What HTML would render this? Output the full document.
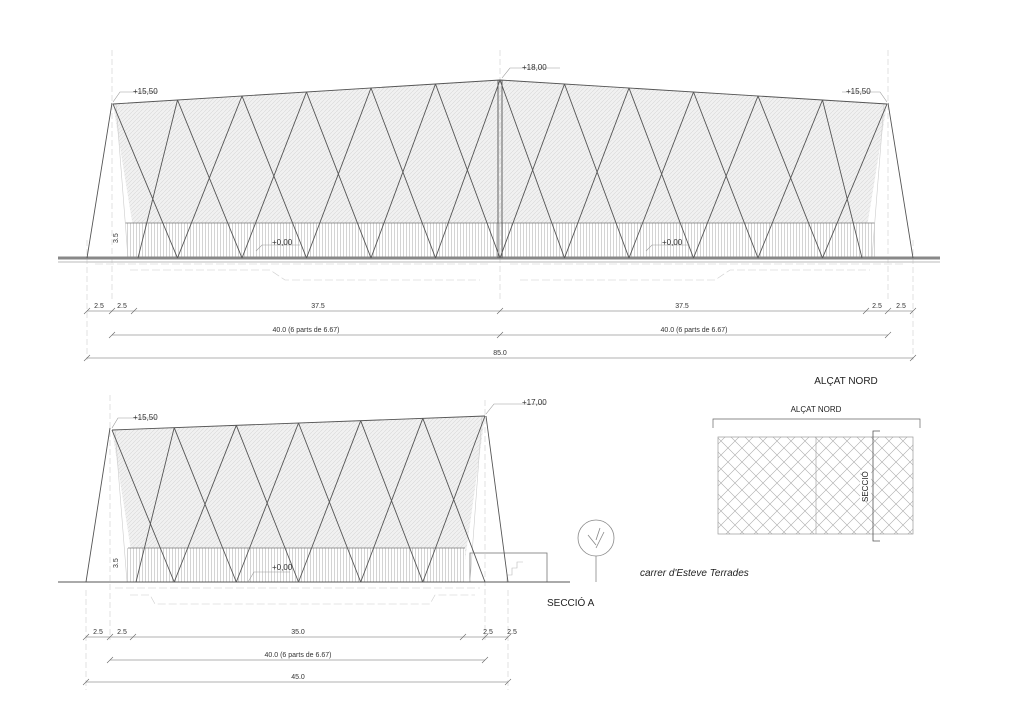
<!DOCTYPE html>
<html><head><meta charset="utf-8"><style>
html,body{margin:0;padding:0;background:#fff;}
svg{display:block;font-family:"Liberation Sans",sans-serif;}
</style></head><body>
<svg width="1024" height="724" viewBox="0 0 1024 724" xmlns="http://www.w3.org/2000/svg">
<defs>
<pattern id="h" width="4" height="4" patternUnits="userSpaceOnUse"><rect width="4" height="4" fill="#f1f1f1"/><path d="M0 4L4 0" stroke="#d8d8d8" stroke-width="0.6"/></pattern>
<pattern id="v" width="3" height="10" patternUnits="userSpaceOnUse"><rect width="3" height="10" fill="#fff"/><path d="M1.5 0V10" stroke="#b8b8b8" stroke-width="0.6"/></pattern>
<pattern id="d" width="14" height="14" patternUnits="userSpaceOnUse"><path d="M0 0L14 14M14 0L0 14" stroke="#aaa" stroke-width="0.6"/></pattern>
</defs>

<!-- TOP ELEVATION -->
<polygon points="113,104 500,80 887,104 862,258 138,258" fill="url(#h)"/>
<rect x="125" y="223" width="750" height="35" fill="url(#v)"/>
<path d="M125 223H875" stroke="#777" stroke-width="0.8"/>
<g stroke="#ccc" stroke-width="0.6" fill="none">
<path d="M112 50V300M500 50V300M888 50V300M87 240V360M913 240V360" stroke-dasharray="6 3"/>
<path d="M116 104L128 258M884 104L872 258"/>
<path d="M95 264H490M510 264H905M130 270H270L285 280H480M520 280H715L730 270H870" stroke-dasharray="8 3"/>
</g>
<path d="M58 258H940" stroke="#888" stroke-width="3"/>
<path d="M58 262H940" stroke="#bbb" stroke-width="1"/>
<g stroke="#555" stroke-width="0.9" fill="none">
<path d="M113 104L500 80L887 104"/>
<path d="M87 258L112 103M913 258L888 103"/>
<path d="M498 80V258M502 80V258"/>
<path d="M113 104L177.5 258M177.5 100L242 258M242 96L306.5 258M306.5 92L371 258M371 88L435.5 258M435.5 84L500 258M177.5 100L138 258M242 96L177.5 258M306.5 92L242 258M371 88L306.5 258M435.5 84L371 258M500 80L435.5 258"/>
<path d="M887 104L822.5 258M822.5 100L758 258M758 96L693.5 258M693.5 92L629 258M629 88L564.5 258M564.5 84L500 258M822.5 100L862 258M758 96L822.5 258M693.5 92L758 258M629 88L693.5 258M564.5 84L629 258M500 80L564.5 258"/>
</g>
<g stroke="#999" stroke-width="0.6" fill="none">
<path d="M113 102L120 92H158M502 78L510 68H560M887 102L880 92H842M256 251L262 245H300M646 251L652 245H690"/>
</g>
<g font-size="8" fill="#333">
<text x="133" y="94">+15,50</text>
<text x="522" y="70">+18,00</text>
<text x="846" y="94">+15,50</text>
<text x="272" y="245">+0,00</text>
<text x="662" y="245">+0,00</text>
<text transform="translate(118,243) rotate(-90)" font-size="7">3.5</text>
</g>
<!-- top dims -->
<g stroke="#666" stroke-width="0.6" fill="none">
<path d="M87 311H913M112 335H888M87 358H913"/>
<path d="M84 314L90 308M109 314L115 308M131 314L137 308M497 314L503 308M863 314L869 308M885 314L891 308M910 314L916 308M109 338L115 332M497 338L503 332M885 338L891 332M84 361L90 355M910 361L916 355"/>
</g>
<g font-size="7" fill="#333" text-anchor="middle">
<text x="99" y="308">2.5</text><text x="122" y="308">2.5</text><text x="318" y="308">37.5</text><text x="682" y="308">37.5</text><text x="877" y="308">2.5</text><text x="901" y="308">2.5</text>
<text x="306" y="332">40.0 (6 parts de 6.67)</text><text x="694" y="332">40.0 (6 parts de 6.67)</text>
<text x="500" y="355">85.0</text>
</g>
<text x="846" y="384" font-size="10" fill="#222" text-anchor="middle">ALÇAT NORD</text>

<!-- BOTTOM SECTION -->
<polygon points="112,430 485,416 462,582 136,582" fill="url(#h)"/>
<rect x="125" y="548" width="340" height="34" fill="url(#v)"/>
<path d="M128 548H465" stroke="#777" stroke-width="0.8"/>
<rect x="470" y="553" width="77" height="29" fill="#fff" stroke="#777" stroke-width="0.8"/>
<path d="M507 582V575H512V568H517V562H523" stroke="#bbb" stroke-width="0.6" fill="none"/>
<g stroke="#ccc" stroke-width="0.6" fill="none">
<path d="M110 395V640M485 400V640M86 590V690M508 590V690" stroke-dasharray="6 3"/>
<path d="M115 430L127 582M482 416L470 582"/>
<path d="M115 588H480M130 595H150L155 604H430L435 595H475" stroke-dasharray="8 3"/>
</g>
<path d="M58 582H570" stroke="#555" stroke-width="1"/>
<g stroke="#555" stroke-width="0.9" fill="none">
<path d="M112 430L485 416"/>
<path d="M86 582L110 428M508 582L486 416"/>
<path d="M112 430L174.2 582M174.2 427.7L236.3 582M236.3 425.3L298.5 582M298.5 423L360.7 582M360.7 420.7L422.8 582M422.8 418.3L485 582M174.2 427.7L136 582M236.3 425.3L174.2 582M298.5 423L236.3 582M360.7 420.7L298.5 582M422.8 418.3L360.7 582M485 416L422.8 582"/>
</g>
<g stroke="#888" stroke-width="0.8" fill="none">
<circle cx="596" cy="538" r="18"/>
<path d="M596 556V582M596 545L588 535M596 548L604 532M596 540L600 528"/>
</g>
<g stroke="#999" stroke-width="0.6" fill="none">
<path d="M112 428L118 418H156M486 414L494 404H545M248 582L254 572H290"/>
</g>
<g font-size="8" fill="#333">
<text x="133" y="420">+15,50</text>
<text x="522" y="405">+17,00</text>
<text x="272" y="570">+0,00</text>
<text transform="translate(118,568) rotate(-90)" font-size="7">3.5</text>
</g>
<text x="640" y="576" font-size="10" font-style="italic" fill="#222">carrer d'Esteve Terrades</text>
<text x="547" y="606" font-size="10" fill="#222">SECCIÓ A</text>
<g stroke="#666" stroke-width="0.6" fill="none">
<path d="M86 637H508M110 660H485M86 682H508"/>
<path d="M83 640L89 634M107 640L113 634M130 640L136 634M460 640L466 634M482 640L488 634M505 640L511 634M107 663L113 657M482 663L488 657M83 685L89 679M505 685L511 679"/>
</g>
<g font-size="7" fill="#333" text-anchor="middle">
<text x="98" y="634">2.5</text><text x="122" y="634">2.5</text><text x="298" y="634">35.0</text><text x="488" y="634">2.5</text><text x="512" y="634">2.5</text>
<text x="298" y="657">40.0 (6 parts de 6.67)</text>
<text x="298" y="679">45.0</text>
</g>

<!-- KEY PLAN -->
<text x="816" y="412" font-size="8" fill="#222" text-anchor="middle">ALÇAT NORD</text>
<path d="M713 428V419H920V428" stroke="#666" stroke-width="0.7" fill="none"/>
<rect x="718" y="437" width="195" height="97" fill="url(#d)" stroke="#999" stroke-width="0.7"/>
<path d="M816 437V534" stroke="#999" stroke-width="0.6"/>
<path d="M880 431H873V541H880" stroke="#555" stroke-width="0.8" fill="none"/>
<rect x="860" y="470" width="11" height="30" fill="#fff"/>
<text transform="translate(868,502) rotate(-90)" font-size="8" fill="#222">SECCIÓ</text>
</svg>
</body></html>
